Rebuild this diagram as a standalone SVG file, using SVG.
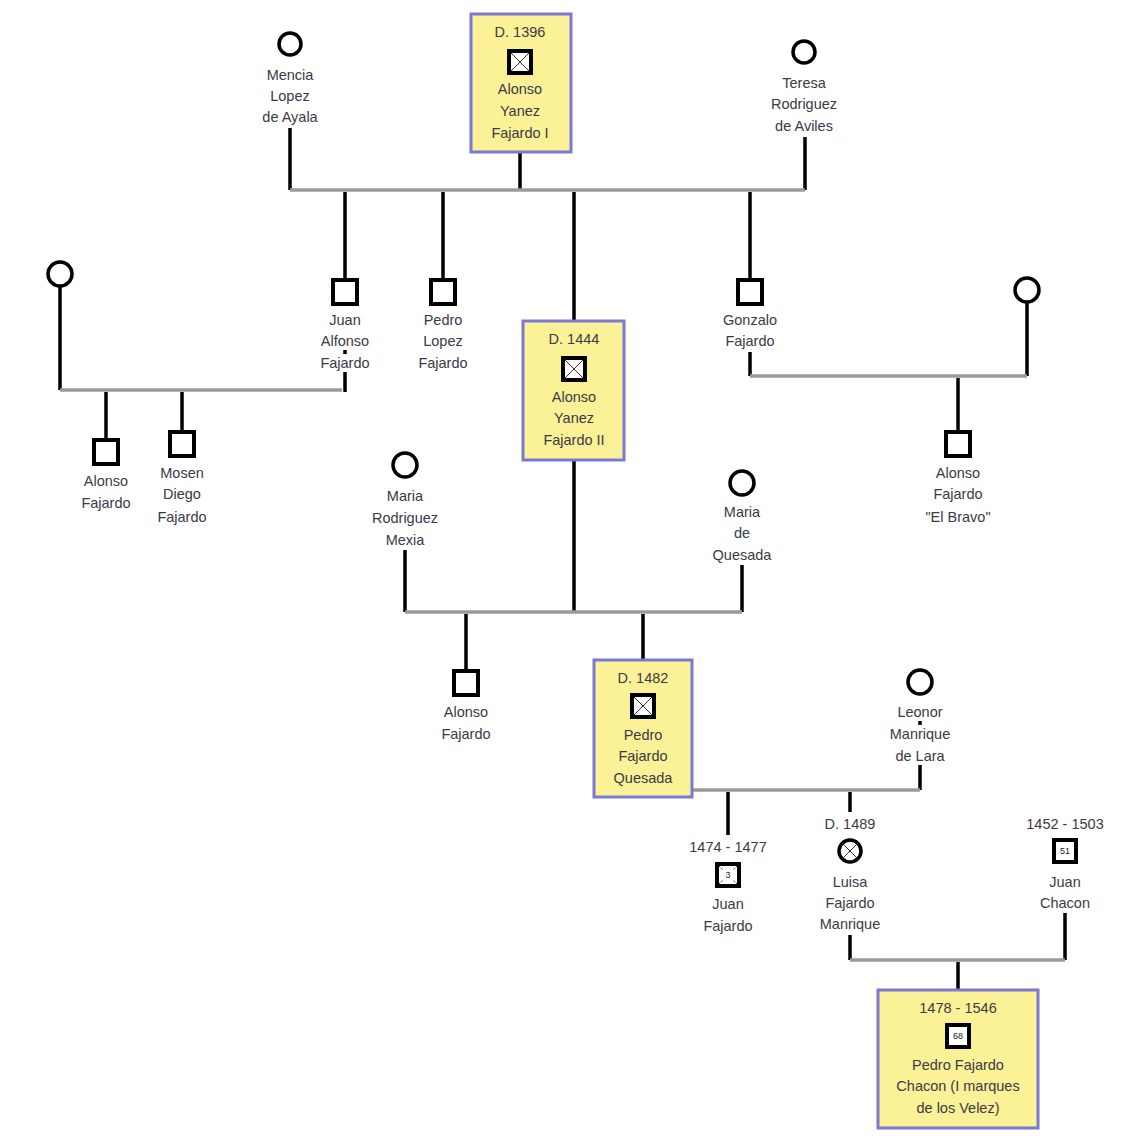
<svg xmlns="http://www.w3.org/2000/svg" width="1132" height="1142" viewBox="0 0 1132 1142">
<style>
text{font-family:"Liberation Sans",Arial,sans-serif;font-size:14.5px;fill:#3a3a48;text-anchor:middle}
.v{stroke:#000;stroke-width:3.5;fill:none}
.h{stroke:#9a9a9a;stroke-width:3.5;fill:none}
.box{fill:#fbf196;stroke:#7a7ad6;stroke-width:3}
.m{fill:#fff;stroke:#000;stroke-width:4}
.f{fill:#fff;stroke:#000;stroke-width:3.5}
.x{stroke:#333;stroke-width:1}
.num{font-size:9px;fill:#222}
</style>
<rect width="1132" height="1142" fill="#fff"/>
<g id="connectors">
<path class="v" d="M290 128V190M520 152V190M805 137V190"/>
<path class="h" d="M290 190H805"/>
<path class="v" d="M345 192V280M443 192V280M574 192V321M750 192V280"/>
<path class="v" d="M60 286V390M345 350V354M345 372V392"/>
<path class="h" d="M60 390H342"/>
<path class="v" d="M106 392V440M182 392V432"/>
<path class="v" d="M750 352V376M1027 302V376"/>
<path class="h" d="M750 376H1027"/>
<path class="v" d="M958 378V432"/>
<path class="v" d="M574 460V612M405 550V612M742 565V612"/>
<path class="h" d="M405 612H742"/>
<path class="v" d="M466 614V671M643 614V660"/>
<path class="v" d="M920 721V725M920 765V790"/>
<path class="h" d="M692 790H920"/>
<path class="v" d="M728 792V835M850 792V812"/>
<path class="v" d="M850 935V960M1065 913V960"/>
<path class="h" d="M850 960H1065"/>
<path class="v" d="M958 962V990"/>
</g>
<g id="alonso-yanez-i">
<rect class="box" x="471" y="14" width="100" height="138"/>
<text x="520" y="37">D. 1396</text>
<rect class="m" x="509" y="51" width="22" height="22" fill="#fbeeee"/>
<path class="x" d="M511 53L529 71M529 53L511 71"/>
<text x="520" y="94">Alonso</text><text x="520" y="116">Yanez</text><text x="520" y="138">Fajardo I</text>
</g>
<g id="mencia">
<circle class="f" cx="290" cy="44" r="11"/>
<text x="290" y="80">Mencia</text><text x="290" y="101">Lopez</text><text x="290" y="122">de Ayala</text>
</g>
<g id="teresa">
<circle class="f" cx="804" cy="52" r="11"/>
<text x="804" y="88">Teresa</text><text x="804" y="109">Rodriguez</text><text x="804" y="131">de Aviles</text>
</g>
<g id="juan-alfonso">
<rect class="m" x="333" y="280" width="24" height="24"/>
<text x="345" y="325">Juan</text><text x="345" y="346">Alfonso</text><text x="345" y="368">Fajardo</text>
</g>
<g id="pedro-lopez">
<rect class="m" x="431" y="280" width="24" height="24"/>
<text x="443" y="325">Pedro</text><text x="443" y="346">Lopez</text><text x="443" y="368">Fajardo</text>
</g>
<g id="gonzalo">
<rect class="m" x="738" y="280" width="24" height="24"/>
<text x="750" y="325">Gonzalo</text><text x="750" y="346">Fajardo</text>
</g>
<g id="wife-left">
<circle class="f" cx="60" cy="274" r="12"/>
</g>
<g id="alonso-fajardo-1">
<rect class="m" x="94" y="440" width="24" height="24"/>
<text x="106" y="486">Alonso</text><text x="106" y="508">Fajardo</text>
</g>
<g id="mosen-diego">
<rect class="m" x="170" y="432" width="24" height="24"/>
<text x="182" y="478">Mosen</text><text x="182" y="499">Diego</text><text x="182" y="522">Fajardo</text>
</g>
<g id="wife-right">
<circle class="f" cx="1027" cy="290" r="12"/>
</g>
<g id="alonso-el-bravo">
<rect class="m" x="946" y="432" width="24" height="24"/>
<text x="958" y="478">Alonso</text><text x="958" y="499">Fajardo</text><text x="958" y="522">"El Bravo"</text>
</g>
<g id="alonso-yanez-ii">
<rect class="box" x="523" y="321" width="101" height="139"/>
<text x="574" y="344">D. 1444</text>
<rect class="m" x="563" y="358" width="22" height="22" fill="#fbeeee"/>
<path class="x" d="M565 360L583 378M583 360L565 378"/>
<text x="574" y="402">Alonso</text><text x="574" y="423">Yanez</text><text x="574" y="445">Fajardo II</text>
</g>
<g id="maria-rodriguez">
<circle class="f" cx="405" cy="465" r="12"/>
<text x="405" y="501">Maria</text><text x="405" y="523">Rodriguez</text><text x="405" y="545">Mexia</text>
</g>
<g id="maria-quesada">
<circle class="f" cx="742" cy="483" r="12"/>
<text x="742" y="517">Maria</text><text x="742" y="538">de</text><text x="742" y="560">Quesada</text>
</g>
<g id="alonso-fajardo-2">
<rect class="m" x="454" y="671" width="24" height="24"/>
<text x="466" y="717">Alonso</text><text x="466" y="739">Fajardo</text>
</g>
<g id="pedro-fajardo-quesada">
<rect class="box" x="594" y="660" width="98" height="137"/>
<text x="643" y="683">D. 1482</text>
<rect class="m" x="632" y="695" width="22" height="22" fill="#fbeeee"/>
<path class="x" d="M634 697L652 715M652 697L634 715"/>
<text x="643" y="740">Pedro</text><text x="643" y="761">Fajardo</text><text x="643" y="783">Quesada</text>
</g>
<g id="leonor">
<circle class="f" cx="920" cy="682" r="12"/>
<text x="920" y="717">Leonor</text><text x="920" y="739">Manrique</text><text x="920" y="761">de Lara</text>
</g>
<g id="juan-fajardo">
<text x="728" y="852">1474 - 1477</text>
<rect class="m" x="717" y="864" width="22" height="22"/>
<path d="M719 866L723 870M737 866L733 870M719 884L723 880M737 884L733 880" stroke="#333" stroke-width="1" stroke-dasharray="1.5,1"/>
<text class="num" x="728" y="878">3</text>
<text x="728" y="909">Juan</text><text x="728" y="931">Fajardo</text>
</g>
<g id="luisa">
<text x="850" y="829">D. 1489</text>
<circle class="f" cx="850" cy="851" r="11" fill="#fbeeee"/>
<path class="x" d="M842 843L858 859M858 843L842 859"/>
<text x="850" y="887">Luisa</text><text x="850" y="908">Fajardo</text><text x="850" y="929">Manrique</text>
</g>
<g id="juan-chacon">
<text x="1065" y="829">1452 - 1503</text>
<rect class="m" x="1054" y="840" width="22" height="22"/>
<text class="num" x="1065" y="854">51</text>
<text x="1065" y="887">Juan</text><text x="1065" y="908">Chacon</text>
</g>
<g id="pedro-fajardo-chacon">
<rect class="box" x="878" y="990" width="160" height="138"/>
<text x="958" y="1013">1478 - 1546</text>
<rect class="m" x="947" y="1025" width="22" height="22"/>
<text class="num" x="958" y="1039">68</text>
<text x="958" y="1070">Pedro Fajardo</text><text x="958" y="1091">Chacon (I marques</text><text x="958" y="1113">de los Velez)</text>
</g>
</svg>
